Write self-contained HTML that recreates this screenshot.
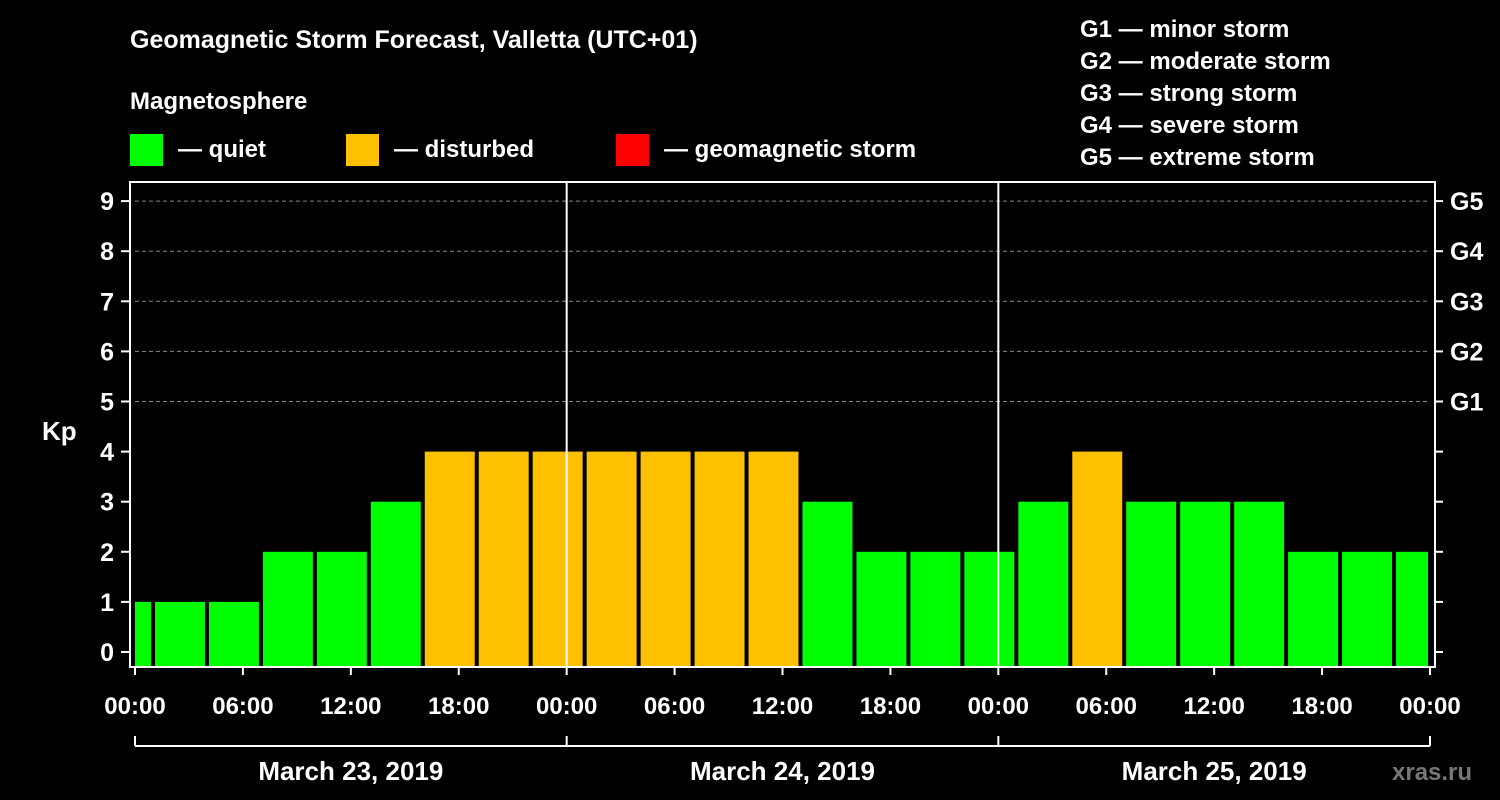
<!DOCTYPE html>
<html><head><meta charset="utf-8"><style>
body{margin:0;background:#000;}
svg{display:block;font-family:"Liberation Sans",Arial,sans-serif;font-weight:bold;}
</style></head><body>
<svg width="1500" height="800" viewBox="0 0 1500 800">
<rect width="1500" height="800" fill="#000"/>
<text x="130" y="48" fill="#fff" font-size="25">Geomagnetic Storm Forecast, Valletta (UTC+01)</text>
<text x="130" y="109" fill="#fff" font-size="24">Magnetosphere</text>
<rect x="130" y="134" width="33" height="32" fill="#00ff00"/>
<text x="178" y="157" fill="#fff" font-size="24">— quiet</text>
<rect x="346" y="134" width="33" height="32" fill="#ffc000"/>
<text x="394" y="157" fill="#fff" font-size="24">— disturbed</text>
<rect x="616" y="134" width="33" height="32" fill="#ff0000"/>
<text x="664" y="157" fill="#fff" font-size="24">— geomagnetic storm</text>
<g fill="#fff" font-size="24">
<text x="1080" y="37">G1 — minor storm</text>
<text x="1080" y="69">G2 — moderate storm</text>
<text x="1080" y="101">G3 — strong storm</text>
<text x="1080" y="133">G4 — severe storm</text>
<text x="1080" y="165">G5 — extreme storm</text>
</g>
<g id="chart"></g>
<text x="42" y="440" fill="#fff" font-size="26">Kp</text>
<text x="1392" y="780" fill="#777" font-size="24">xras.ru</text>
</svg>
<script>
const kpValues=[1,1,1,2,2,3,4,4,4,4,4,4,4,3,2,2,2,3,4,3,3,3,2,2,2];
const startHours=[-2,1,4,7,10,13,16,19,22,25,28,31,34,37,40,43,46,49,52,55,58,61,64,67,70];
const xTickLabels=["00:00","06:00","12:00","18:00","00:00","06:00","12:00","18:00","00:00","06:00","12:00","18:00","00:00"];
const dateLabels=["March 23, 2019","March 24, 2019","March 25, 2019"];
const gLabels=["G1","G2","G3","G4","G5"];
const X0=135,X1=1430,HOURS=72,Y0=652,YU=50.1,YB=667,YT=182;
const xs=h=>X0+(X1-X0)*h/HOURS;
const ys=v=>Y0-YU*v;
const NS="http://www.w3.org/2000/svg";
const g=document.getElementById('chart');
function mk(t,a,p){const e=document.createElementNS(NS,t);for(const k in a)e.setAttribute(k,a[k]);(p||g).appendChild(e);return e;}
// grid
for(let v=5;v<=9;v++){const l=mk('line',{x1:X0,x2:X1,y1:ys(v),y2:ys(v),stroke:'#888','stroke-dasharray':'4,3','stroke-width':1});

}
// bars
kpValues.forEach((v,i)=>{const h0=Math.max(0,startHours[i]),h1=Math.min(HOURS,startHours[i]+3);
let x0=xs(h0)+(startHours[i]<0?0:2),x1=xs(h1)-(startHours[i]+3>HOURS?2:2);
const c=v>=5?'#ff0000':(v>=4?'#ffc000':'#00ff00');
const r=mk('rect',{x:x0,y:ys(v),width:x1-x0,height:YB-ys(v),fill:c});

});
// day separators
[24,48].forEach(h=>{const l=mk('line',{x1:xs(h),x2:xs(h),y1:YT,y2:YB,stroke:'#fff','stroke-width':2});

});
// frame
const fr=mk('rect',{x:130,y:YT,width:1305,height:YB-YT,fill:'none',stroke:'#fff','stroke-width':2});


// y ticks
for(let v=0;v<=9;v++){mk('line',{x1:121,x2:130,y1:ys(v),y2:ys(v),stroke:'#fff','stroke-width':2});
mk('line',{x1:1435,x2:1443,y1:ys(v),y2:ys(v),stroke:'#fff','stroke-width':2});
const t=mk('text',{x:114,y:ys(v)+9,fill:'#fff','font-size':25,'text-anchor':'end'});t.textContent=v;

}
gLabels.forEach((s,i)=>{const t=mk('text',{x:1450,y:ys(5+i)+9,fill:'#fff','font-size':25});t.textContent=s;

});
// x ticks
xTickLabels.forEach((s,i)=>{const x=xs(i*6);mk('line',{x1:x,x2:x,y1:YB,y2:YB+8,stroke:'#fff','stroke-width':2});
const t=mk('text',{x:x,y:714,fill:'#fff','font-size':24,'text-anchor':'middle'});t.textContent=s;

});
// date bracket
mk('line',{x1:X0,x2:X1,y1:746,y2:746,stroke:'#fff','stroke-width':2});
[0,24,48,72].forEach(h=>mk('line',{x1:xs(h),x2:xs(h),y1:736,y2:746,stroke:'#fff','stroke-width':2}));
dateLabels.forEach((s,i)=>{const t=mk('text',{x:xs(i*24+12),y:780,fill:'#fff','font-size':26,'text-anchor':'middle'});t.textContent=s;

});
</script>
</body></html>
